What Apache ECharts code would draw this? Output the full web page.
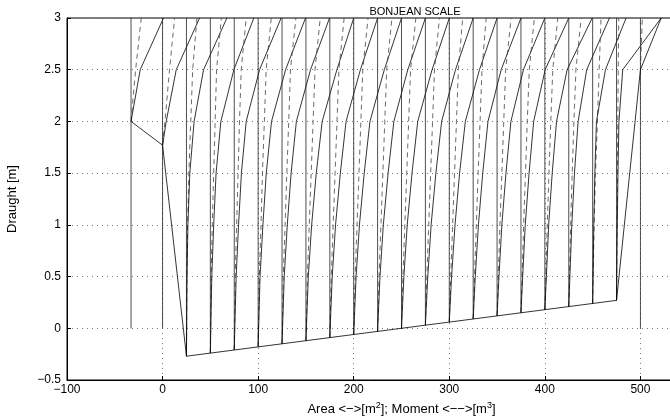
<!DOCTYPE html>
<html>
<head>
<meta charset="utf-8">
<script src="https://cdn.jsdelivr.net/npm/echarts@6/dist/echarts.min.js"></script>
<style>
  html, body { margin: 0; padding: 0; background: #fff; }
  #chart { width: 670px; height: 419px; }
</style>
</head>
<body>
<div id="chart"></div>
<script>
// stations along the ship [m]
const stations = [-33, 0, 25, 50, 75, 100, 125, 150, 175, 200, 225, 250, 275, 300, 325, 350, 375, 400, 425, 450, 475, 500];
// lowest point of each station's curves (keel / hull bottom) [m]
const curveStart = [2.0, 1.77, -0.27, -0.24, -0.21, -0.18, -0.15, -0.12, -0.09, -0.06, -0.03, 0.0, 0.03, 0.06, 0.09, 0.12, 0.15, 0.18, 0.21, 0.24, 0.27, 2.5];
// lower end of the vertical station lines
const stationBottom = [0, 0, -0.27, -0.24, -0.21, -0.18, -0.15, -0.12, -0.09, -0.06, -0.03, 0.0, 0.03, 0.06, 0.09, 0.12, 0.15, 0.18, 0.21, 0.24, 0.27, 0];
// draught levels where the curves were read
const levels = [0.5, 1, 1.5, 2, 2.5, 3];
// area curve, offset from station line at each level (null = below hull)
const areaOffset = [
  [null, null, null, null, 9.6, 34],
  [null, null, null, 3.8, 14.3, 38.7],
  [0.6, 1.5, 3.5, 8, 17.9, 42.3],
  [1.5, 3.5, 6, 11, 24.6, 45.5],
  [2, 4.5, 7.5, 12.5, 26.5, 49],
  [2, 5, 8.5, 14, 28.7, 49.6],
  [2.3, 5.5, 9.5, 15, 29.8, 49.7],
  [2.5, 6, 10.8, 17, 32.4, 50],
  [2.5, 6, 11, 17, 32, 50],
  [2.5, 6, 11, 17, 32, 50],
  [2.5, 6, 11, 17, 31.6, 50],
  [2.5, 6, 11, 17, 32, 50],
  [2.5, 6, 11, 17, 31.5, 50],
  [2.4, 6, 10.8, 16.8, 31.6, 50],
  [2.2, 5.5, 10, 15.5, 29.3, 50],
  [2, 5, 9.3, 14.5, 27.6, 50],
  [1.8, 4.5, 8.5, 13.3, 25.3, 50],
  [1.6, 4, 7.7, 12.2, 23.3, 49.5],
  [1.2, 3.2, 6, 9.8, 18.8, 42.6],
  [0.5, 1.2, 2.3, 4, 13.4, 35],
  [0.2, 0.8, 1.5, 2.5, 6.5, 46.7],
  [null, null, null, null, 0.7, 21.7]
];
// moment curve, offset from station line at each level
const momentOffset = [
  [null, null, null, null, 4.8, 10.7],
  [null, null, null, 2.5, 7.3, 12.6],
  [0.5, 1.2, 2.5, 4.5, 6.5, 11],
  [0.8, 2, 3.5, 5, 6.5, 11.5],
  [1, 2.5, 4, 5.5, 7.3, 12.5],
  [1.2, 3, 4.5, 6.5, 8.4, 13.7],
  [1.3, 3.2, 5, 7, 8.8, 14.5],
  [1.5, 3.5, 5.5, 7.5, 9.5, 15],
  [1.5, 3.5, 5.5, 7.5, 9.5, 15],
  [1.5, 3.5, 5.5, 7.5, 9.5, 15],
  [1.5, 3.5, 5.5, 7.5, 9.5, 15],
  [1.5, 3.5, 5.5, 7.5, 9.5, 15],
  [1.5, 3.5, 5.5, 7.5, 9.5, 14.7],
  [1.5, 3.5, 5.5, 7.5, 9.5, 14],
  [1.4, 3.3, 5.2, 7.2, 9.2, 13.6],
  [1.3, 3, 5, 7, 9, 14.7],
  [1.2, 2.8, 4.7, 6.6, 8.7, 14],
  [1, 2.5, 4.3, 6.2, 8.3, 13.5],
  [0.8, 2, 3.6, 5.4, 7.5, 13],
  [0.5, 1.5, 3, 5, 6.8, 8.8],
  [0.2, 0.5, 0.9, 1.3, 1.8, 2.3],
  [null, null, null, null, 0, 2]
];
// ship profile (stern, keel, bow)
const profileX = [-33, 0, 25, 475, 500];
const profileY = [2.0, 1.77, -0.27, 0.27, 2.5];

function minus(v) { return String(v).replace('-', '\u2212'); }

function curve(i, offsets) {
  const pts = [[stations[i], curveStart[i]]];
  levels.forEach((lv, k) => {
    const o = offsets[i][k];
    if (o !== null && lv > curveStart[i]) pts.push([stations[i] + o, lv]);
  });
  return pts;
}

const lineBase = { type: 'line', showSymbol: false, silent: true, animation: false, clip: true };
const series = [];

stations.forEach((s, i) => {
  series.push(Object.assign({}, lineBase, {
    data: [[s, stationBottom[i]], [s, 3]],
    lineStyle: { color: '#222', width: 0.8 }
  }));
  series.push(Object.assign({}, lineBase, {
    data: curve(i, momentOffset),
    lineStyle: { color: '#444', width: 0.8, type: [5, 4] }
  }));
  series.push(Object.assign({}, lineBase, {
    data: curve(i, areaOffset),
    lineStyle: { color: '#000', width: 0.8 }
  }));
});

series.push(Object.assign({}, lineBase, {
  data: profileX.map((x, i) => [x, profileY[i]]),
  lineStyle: { color: '#000', width: 0.8 }
}));

const chart = echarts.init(document.getElementById('chart'), null, { renderer: 'canvas' });
chart.setOption({
  backgroundColor: '#fff',
  title: {
    text: 'BONJEAN SCALE',
    left: 410,
    top: 1,
    textAlign: 'center',
    textStyle: { fontFamily: 'Liberation Sans', fontSize: 11, fontWeight: 'normal', color: '#000' }
  },
  grid: {
    left: 67, width: 669, top: 18, bottom: 39,
    outerBoundsMode: 'none', containLabel: false,
    show: true, borderColor: '#000', borderWidth: 1
  },
  xAxis: {
    type: 'value', min: -100, max: 600, interval: 100,
    name: 'Area <\u2212>[m{sup|2}]; Moment <\u2212\u2212>[m{sup|3}]',
    nameLocation: 'middle', nameGap: 19,
    nameTextStyle: {
      fontFamily: 'Liberation Sans', fontSize: 13, color: '#000',
      rich: { sup: { fontSize: 9, verticalAlign: 'bottom', padding: [0, 0, 8, 0], fontFamily: 'Liberation Sans', color: '#000' } }
    },
    axisLine: { show: true, onZero: false, lineStyle: { color: '#000', width: 1 } },
    axisTick: { show: true, inside: true, length: 4, lineStyle: { color: '#000' } },
    axisLabel: { fontFamily: 'Liberation Sans', fontSize: 12, color: '#000', margin: 4, formatter: minus },
    splitLine: { show: true, lineStyle: { color: '#777', width: 1, type: [1, 4] } }
  },
  yAxis: {
    type: 'value', min: -0.5, max: 3, interval: 0.5,
    name: 'Draught [m]', nameLocation: 'middle', nameGap: 48, nameRotate: 90,
    nameTextStyle: { fontFamily: 'Liberation Sans', fontSize: 13, color: '#000' },
    axisLine: { show: true, onZero: false, lineStyle: { color: '#000', width: 1 } },
    axisTick: { show: true, inside: true, length: 4, lineStyle: { color: '#000' } },
    axisLabel: { fontFamily: 'Liberation Sans', fontSize: 12, color: '#000', margin: 6, formatter: minus },
    splitLine: { show: true, lineStyle: { color: '#777', width: 1, type: [1, 4] } }
  },
  series: series
});
</script>
</body>
</html>
